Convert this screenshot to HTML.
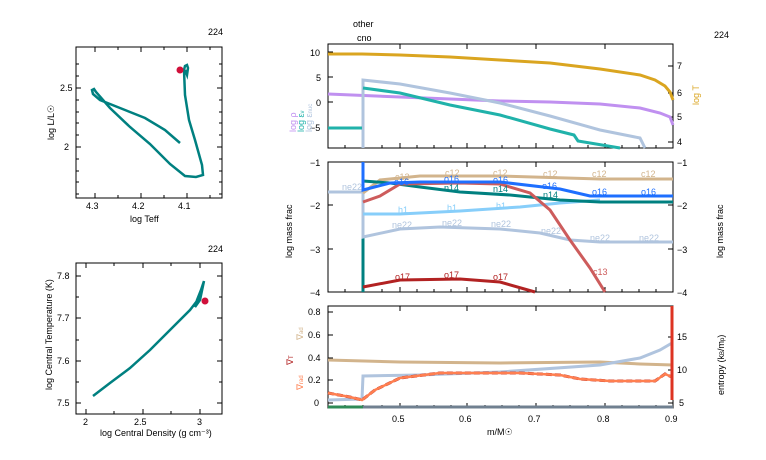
<!DOCTYPE html>
<html><head><style>body{margin:0;background:#fff}svg{display:block}text{font-family:"Liberation Sans",sans-serif;font-size:9px}</style></head><body>
<svg width="766" height="460" viewBox="0 0 766 460" xmlns="http://www.w3.org/2000/svg">
<g fill="none" stroke="#000" stroke-width="1">
<rect x="76" y="47" width="146" height="151"/>
<rect x="76" y="263" width="146" height="151"/>
<rect x="328" y="44" width="345" height="104"/>
<rect x="328" y="162" width="345" height="130"/>
<rect x="328" y="306" width="345" height="102"/>
</g>
<g stroke="#000" stroke-width="1">
<path d="M95 198v-5M141 198v-5M187 198v-5M95 47v5M141 47v5M187 47v5M76 88h5M76 147h5M222 88h-5M222 147h-5"/>
<path d="M118 198v-3M164 198v-3M210 198v-3M118 47v3M164 47v3M210 47v3M76 64h3M76 76h3M76 100h3M76 112h3M76 123h3M76 135h3M76 159h3M76 171h3M76 182h3M76 194h3M222 64h-3M222 76h-3M222 100h-3M222 112h-3M222 123h-3M222 135h-3M222 159h-3M222 171h-3M222 182h-3M222 194h-3"/>
<path d="M86 414v-5M143 414v-5M200 414v-5M86 263v5M143 263v5M200 263v5M76 276h5M76 318h5M76 361h5M76 403h5M222 276h-5M222 318h-5M222 361h-5M222 403h-5"/>
<path d="M114 414v-3M171 414v-3M114 263v3M171 263v3M76 297h3M76 340h3M76 382h3M222 297h-3M222 340h-3M222 382h-3"/>
<path d="M400 408v-5M467 408v-5M536 408v-5M605 408v-5M400 306v5M467 306v5M536 306v5M605 306v5M400 292v-5M467 292v-5M536 292v-5M605 292v-5M400 162v5M467 162v5M536 162v5M605 162v5M400 148v-5M467 148v-5M536 148v-5M605 148v-5M400 44v5M467 44v5M536 44v5M605 44v5"/>
<path d="M345 408v-3M363 408v-3M382 408v-3M417 408v-3M434 408v-3M451 408v-3M485 408v-3M502 408v-3M519 408v-3M553 408v-3M570 408v-3M588 408v-3M622 408v-3M639 408v-3M656 408v-3M345 292v-3M363 292v-3M382 292v-3M417 292v-3M434 292v-3M451 292v-3M485 292v-3M502 292v-3M519 292v-3M553 292v-3M570 292v-3M588 292v-3M622 292v-3M639 292v-3M656 292v-3M345 148v-3M363 148v-3M382 148v-3M417 148v-3M434 148v-3M451 148v-3M485 148v-3M502 148v-3M519 148v-3M553 148v-3M570 148v-3M588 148v-3M622 148v-3M639 148v-3M656 148v-3"/>
<path d="M328 52h5M328 77h5M328 102h5M328 127h5M673 66h-5M673 93h-5M673 117h-5M673 142h-5"/>
<path d="M328 205h5M328 249h5M673 205h-5M673 249h-5"/>
<path d="M328 312h5M328 335h5M328 358h5M328 380h5M328 403h5M673 337h-5M673 370h-5M673 403h-5"/>
</g>
<polyline fill="none" stroke="#008080" stroke-width="2.5" points="180,143 165,130 145,118 120,108 100,100 93,94 92,90 94,89 96,92 110,108 130,127 150,144 170,164 185,176 196,177 203,175 202,165 195,140 189,120 185,95 184,70 185,66 187,65 188,68 187,75 185,70"/>
<circle cx="180" cy="70" r="3.5" fill="#d0103a"/>
<polyline fill="none" stroke="#008080" stroke-width="2.5" points="93,396 110,383 130,368 150,350 170,330 190,310 200,297 204,281 200,300 195,307 197,300 201,290 204,281"/>
<circle cx="205" cy="301" r="3.5" fill="#d0103a"/>
<g fill="#000">
<text x="208" y="35">224</text>
<text x="208" y="252">224</text>
<text x="714" y="38">224</text>
<text x="86" y="209">4.3</text><text x="132" y="209">4.2</text><text x="178" y="209">4.1</text>
<text x="130" y="222" font-size="8">log Teff</text>
<text x="60" y="91">2.5</text><text x="64" y="150">2</text>
<text transform="translate(54,140) rotate(-90)" font-size="8">log L/L☉</text>
<text x="83" y="425">2</text><text x="134" y="425">2.5</text><text x="197" y="425">3</text>
<text x="100" y="436" font-size="8">log Central Density (g cm⁻³)</text>
<text x="57" y="279">7.8</text><text x="57" y="321">7.7</text><text x="57" y="364">7.6</text><text x="57" y="406">7.5</text>
<text transform="translate(52,390) rotate(-90)" font-size="8">log Central Temperature (K)</text>
<text x="353" y="27">other</text><text x="357" y="41">cno</text>
<text x="310" y="56">10</text><text x="316" y="81">5</text><text x="316" y="106">0</text><text x="310" y="131">−5</text>
<text x="677" y="69">7</text><text x="677" y="96">6</text><text x="677" y="120">5</text><text x="677" y="145">4</text>
<text x="310" y="166">−1</text><text x="310" y="209">−2</text><text x="310" y="253">−3</text><text x="310" y="296">−4</text>
<text x="677" y="166">−1</text><text x="677" y="209">−2</text><text x="677" y="253">−3</text><text x="677" y="296">−4</text>
<text transform="translate(292,258) rotate(-90)">log mass frac</text>
<text transform="translate(723,258) rotate(-90)">log mass frac</text>
<text x="308" y="315">0.8</text><text x="308" y="338">0.6</text><text x="308" y="361">0.4</text><text x="308" y="383">0.2</text><text x="314" y="406">0</text>
<text x="677" y="340">15</text><text x="677" y="373">10</text><text x="679" y="406">5</text>
<text transform="translate(724,395) rotate(-90)">entropy (k<tspan font-size="6">B</tspan>/m<tspan font-size="6">p</tspan>)</text>
<text x="392" y="422">0.5</text><text x="459" y="422">0.6</text><text x="528" y="422">0.7</text><text x="597" y="422">0.8</text><text x="665" y="422">0.9</text>
<text x="487" y="435">m/M☉</text>
</g>
<text transform="translate(296,132) rotate(-90)" fill="#c090f0">log ρ</text>
<text transform="translate(304,132) rotate(-90)" fill="#20b2aa">log ε<tspan font-size="6">ν</tspan></text>
<text transform="translate(312,132) rotate(-90)" fill="#b0c4de">log ε<tspan font-size="6">nuc</tspan></text>
<text transform="translate(699,105) rotate(-90)" fill="#daa520">log T</text>
<text transform="translate(303,340) rotate(-90)" fill="#d2b48c">∇<tspan font-size="6">ad</tspan></text>
<text transform="translate(293,365) rotate(-90)" fill="#b22222">∇<tspan font-size="6">T</tspan></text>
<text transform="translate(303,390) rotate(-90)" fill="#ff7f50">∇<tspan font-size="6">rad</tspan></text>
<g fill="none" stroke-width="3">
<polyline stroke="#daa520" points="328,54 362,54 400,55 450,57 500,60 550,63 600,69 640,75 655,80 665,86 670,92 673,100"/>
<polyline stroke="#c090f0" points="328,94 400,97 450,99 500,101 550,102 600,104 640,108 660,113 670,117 673,125"/>
<polyline stroke="#b0c4de" points="363,148 363,80 400,84 450,93 500,103 550,116 600,130 640,138 645,148"/>
<polyline stroke="#20b2aa" points="328,128 362,128"/>
<polyline stroke="#20b2aa" points="363,88 400,93 450,105 500,115 550,129 574,135 578,141 620,148"/>
</g>
<g fill="none" stroke-width="3">
<polyline stroke="#008080" points="363,292 363,238"/>
<polyline stroke="#b0c4de" points="328,192 363,192 363,237 400,229 440,227 500,229 540,233 570,240 600,242 673,242"/>
<polyline stroke="#87cefa" points="363,214 400,214 460,211 520,207 560,203 600,200"/>
<polyline stroke="#d2b48c" points="363,193 380,180 420,176 500,176 600,179 673,179"/>
<polyline stroke="#008080" points="363,181 390,183 420,187 460,192 510,195 560,200 600,202 673,202"/>
<polyline stroke="#cd5c5c" points="363,202 380,196 400,184 460,183 500,184 530,193 550,210 570,240 590,268 605,292"/>
<polyline stroke="#1e6fff" points="363,162 363,190 390,183 420,182 500,182 560,189 590,196 673,196"/>
<polyline stroke="#b22222" points="363,287 400,280 460,279 500,282 535,292"/>
</g>
<g font-size="9">
<text x="342" y="190" fill="#b0c4de">ne22</text>
<text x="395" y="180" fill="#d2b48c">c12</text><text x="445" y="176" fill="#d2b48c">c12</text><text x="493" y="176" fill="#d2b48c">c12</text><text x="543" y="177" fill="#d2b48c">c12</text><text x="592" y="177" fill="#d2b48c">c12</text><text x="641" y="177" fill="#d2b48c">c12</text>
<text x="394" y="185" fill="#1e6fff">o16</text><text x="444" y="182" fill="#1e6fff">o16</text><text x="493" y="183" fill="#1e6fff">o16</text><text x="542" y="189" fill="#1e6fff">o16</text><text x="592" y="195" fill="#1e6fff">o16</text><text x="641" y="195" fill="#1e6fff">o16</text>
<text x="444" y="191" fill="#008080">n14</text><text x="493" y="192" fill="#008080">n14</text><text x="543" y="198" fill="#008080">n14</text>
<text x="398" y="213" fill="#87cefa">h1</text><text x="447" y="211" fill="#87cefa">h1</text><text x="496" y="209" fill="#87cefa">h1</text>
<text x="392" y="228" fill="#b0c4de">ne22</text><text x="442" y="226" fill="#b0c4de">ne22</text><text x="491" y="227" fill="#b0c4de">ne22</text><text x="541" y="234" fill="#b0c4de">ne22</text><text x="590" y="241" fill="#b0c4de">ne22</text><text x="639" y="241" fill="#b0c4de">ne22</text>
<text x="395" y="280" fill="#b22222">o17</text><text x="444" y="278" fill="#b22222">o17</text><text x="493" y="280" fill="#b22222">o17</text>
<text x="593" y="275" fill="#cd5c5c">c13</text>
</g>
<g fill="none" stroke-width="3">
<polyline stroke="#d2b48c" points="328,360 400,362 500,363 600,362 640,364 673,365"/>
<polyline stroke="#b0c4de" points="328,400 362,399 363,376 420,375 500,372 600,365 640,358 660,350 672,343"/>
<polyline stroke="#b22222" stroke-dasharray="6 3" points="328,393 350,397 362,400 375,390 400,378 440,373 520,373 560,375 580,379 610,381 655,381 665,374 672,377"/>
<polyline stroke="#ff7f50" stroke-width="2.5" points="328,393 350,397 362,400 375,390 400,378 440,373 520,373 560,375 580,379 610,381 655,381 665,374 672,377"/>
<polyline stroke="#dd3322" points="672,306 672,400"/>
<polyline stroke="#2e8b57" points="328,407 363,407"/>
<polyline stroke="#708090" points="363,407 673,407"/>
</g>
</svg>
</body></html>
